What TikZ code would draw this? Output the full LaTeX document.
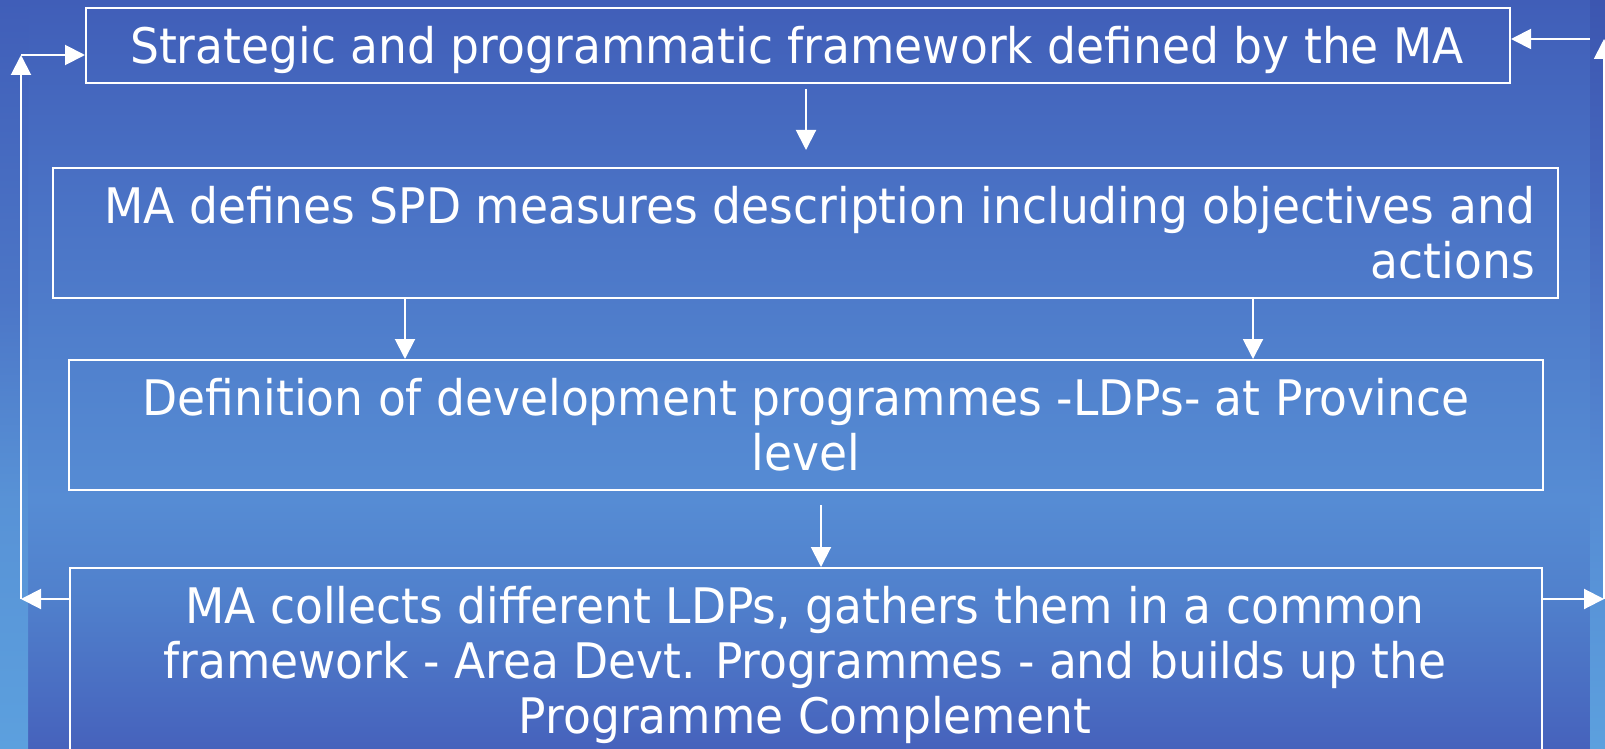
\documentclass[tikz,border=0pt]{standalone}
\usepackage{fontspec}
\setmainfont[FakeStretch=0.93]{DejaVu Sans}
\usetikzlibrary{arrows.meta}
\definecolor{bgtop}{RGB}{64,94,184}
\definecolor{bgmid}{RGB}{86,140,212}
\definecolor{bgbot}{RGB}{70,98,188}
\definecolor{striplight}{RGB}{92,160,222}
\definecolor{stripdark}{RGB}{60,86,176}
% path spans 25bp (bottom) to 75bp (top) of the shading
\pgfdeclareverticalshading{bgshade}{100bp}{%
  color(0bp)=(bgbot);
  color(25bp)=(bgbot);
  color(35bp)=(rgb,255:red,80;green,128;blue,204);
  color(41.7bp)=(bgmid);
  color(47bp)=(rgb,255:red,83;green,134;blue,208);
  color(61.7bp)=(rgb,255:red,74;green,114;blue,197);
  color(75bp)=(bgtop);
  color(100bp)=(bgtop)}
\pgfdeclareverticalshading{leftshade}{100bp}{%
  color(0bp)=(striplight);
  color(25bp)=(striplight);
  color(41.7bp)=(rgb,255:red,88;green,146;blue,214);
  color(55bp)=(rgb,255:red,76;green,118;blue,199);
  color(75bp)=(bgtop);
  color(100bp)=(bgtop)}
\pgfdeclareverticalshading{rightshade}{100bp}{%
  color(0bp)=(striplight);
  color(25bp)=(striplight);
  color(41.7bp)=(rgb,255:red,86;green,140;blue,212);
  color(61.7bp)=(rgb,255:red,70;green,104;blue,190);
  color(75bp)=(stripdark);
  color(100bp)=(stripdark)}
\tikzset{
  box/.style={draw=white, line width=2pt, anchor=north west, inner sep=0pt, rectangle},
  txt/.style={text=white, inner sep=0pt, font=\fontsize{49}{55}\selectfont},
  arr/.style={draw=white, line width=2pt, -{Triangle[length=20pt,width=20pt]}}
}
\begin{document}
\begin{tikzpicture}[x=1pt,y=-1pt]
\useasboundingbox (0,0) rectangle (1605,749);
% background
\shade[shading=bgshade] (0,0) rectangle (1605,749);
\shade[shading=leftshade] (0,0) rectangle (28,749);
\shade[shading=rightshade] (1590,0) rectangle (1605,749);
% boxes
\node[box, minimum width=1424pt, minimum height=75pt] (b1) at (85,7) {};
\node[box, minimum width=1505pt, minimum height=130pt] (b2) at (52,167) {};
\node[box, minimum width=1474pt, minimum height=130pt] (b3) at (68,359) {};
\node[box, minimum width=1472pt, minimum height=196pt] (b4) at (69,567) {};
% texts
\node[txt, anchor=north] (t1) at (797,26) {Strategic and programmatic framework defined by the MA};
\node[txt, anchor=north east, align=right] (t2) at (1535,186) {MA defines SPD measures description including objectives and\\actions};
\node[txt, anchor=north, align=center] (t3) at (806,378) {Definition of development programmes -LDPs- at Province\\level};
\node[txt, anchor=north, align=center] (t4) at (805,586) {MA collects different LDPs, gathers them in a common\\framework - Area Devt. Programmes - and builds up the\\Programme Complement};
% vertical flow arrows
\draw[arr] ([xshift=8pt,yshift=-5pt]b1.south) -- ([xshift=0.5pt,yshift=17pt]b2.north);
\draw[arr] ([xshift=353pt,yshift=2pt]b2.south west) -- ([xshift=337pt]b3.north west);
\draw[arr] ([xshift=1201pt,yshift=2pt]b2.south west) -- ([xshift=1185pt]b3.north west);
\draw[arr] ([xshift=753pt,yshift=-14pt]b3.south west) -- ([xshift=752pt]b4.north west);
% left feedback loop
\coordinate (cL1) at (21,599);
\coordinate (cL2) at (21,55);
\draw[arr] ([yshift=-32pt]b4.north west) -- (cL1);
\draw[arr] (cL1) -- (cL2);
\draw[arr] (cL2) -- (cL2 -| b1.west);
% right feedback loop
\coordinate (cR1) at (1604,599);
\coordinate (cR2) at (1604,39);
\coordinate (cR3) at (1590,39);
\draw[arr] ([yshift=-32pt]b4.north east) -- (cR1);
\draw[arr] (cR1) -- (cR2);
\draw[arr] (cR3) -- (cR3 -| b1.east);
\end{tikzpicture}
\end{document}
